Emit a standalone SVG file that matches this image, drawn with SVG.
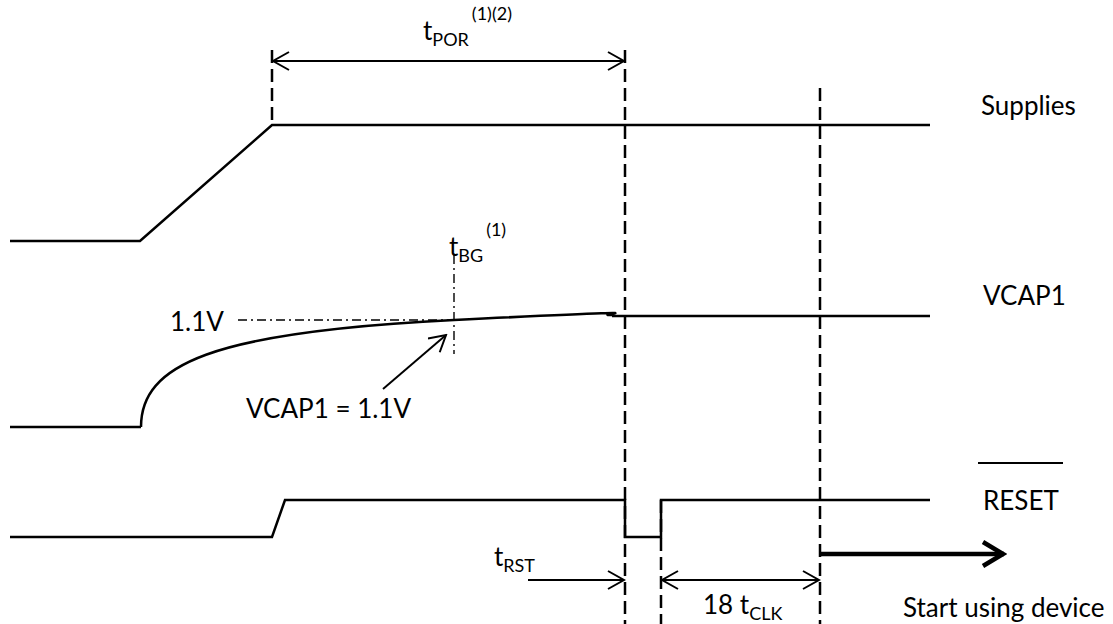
<svg xmlns="http://www.w3.org/2000/svg" width="1113" height="624" viewBox="0 0 1113 624">
<defs>
<style>
.tr{fill:none;stroke:#000;stroke-width:2.5;stroke-linejoin:miter}
.dash{fill:none;stroke:#000;stroke-width:2.5;stroke-dasharray:13 6}
.dd{fill:none;stroke:#000;stroke-width:1.4;stroke-dasharray:9 4 2 4}
.ar{fill:none;stroke:#000;stroke-width:2}
text{font-family:Lato,"Open Sans","Liberation Sans",sans-serif;font-size:26px;fill:#000}
.sub{font-size:18px}
</style>
<marker id="ah" viewBox="0 0 20 20" refX="18" refY="10" markerWidth="20" markerHeight="20" markerUnits="userSpaceOnUse" orient="auto-start-reverse">
<polyline points="2,1 18,10 2,19" fill="none" stroke="#000" stroke-width="2"/>
</marker>
<marker id="ahb" viewBox="0 0 30 30" refX="27" refY="15" markerWidth="30" markerHeight="30" markerUnits="userSpaceOnUse" orient="auto">
<polyline points="6,3 26,15 6,27" fill="none" stroke="#000" stroke-width="4.5"/>
</marker>
</defs>
<rect width="1113" height="624" fill="#fff"/>
<g id="guides">
<line class="dash" x1="272" y1="50" x2="272" y2="125"/>
<line class="dash" x1="625" y1="50" x2="625" y2="624"/>
<line class="dash" x1="661" y1="500" x2="661" y2="624"/>
<line class="dash" x1="820" y1="88" x2="820" y2="624"/>
<line class="dd" x1="238" y1="320" x2="454" y2="320"/>
<line class="dd" x1="454" y1="255" x2="454" y2="354"/>
</g>
<g id="supplies">
<polyline class="tr" points="10,241 140,241 272,125 930,125"/>
<text x="981" y="115">Supplies</text>
</g>
<g id="vcap1">
<path class="tr" d="M141,427 C141,365 210,332 454,320 S585,315 612,315"/>
<line class="tr" x1="612" y1="316" x2="930" y2="316"/>
<line class="tr" x1="10" y1="427" x2="141" y2="427"/>
<text x="983" y="305">VCAP1</text>
<text x="170" y="331">1.1V</text>
<text x="246" y="418">VCAP1 = 1.1V</text>
</g>
<g id="reset">
<polyline class="tr" points="10,537 272,537 285,500 625,500 625,537 661,537 661,500 930,500"/>
<text x="983" y="510">RESET</text>
<line x1="978" y1="463" x2="1063" y2="463" stroke="#000" stroke-width="2"/>
</g>
<g id="connectors">
<line class="ar" x1="273" y1="61" x2="624" y2="61" marker-start="url(#ah)" marker-end="url(#ah)"/>
<line class="ar" x1="383" y1="389" x2="446" y2="335" marker-end="url(#ah)"/>
<line class="ar" x1="528" y1="580" x2="624" y2="580" marker-end="url(#ah)"/>
<line class="ar" x1="662" y1="580" x2="819" y2="580" marker-start="url(#ah)" marker-end="url(#ah)"/>
<line x1="820" y1="554" x2="1004" y2="554" stroke="#000" stroke-width="4.5" marker-end="url(#ahb)"/>
</g>
<g id="labels">
<text x="423" y="40">t<tspan class="sub" dy="6">POR</tspan><tspan class="sub" dy="-26" dx="3">(1)(2)</tspan></text>
<text x="449" y="256">t<tspan class="sub" dy="6">BG</tspan><tspan class="sub" dy="-26" dx="3">(1)</tspan></text>
<text x="494" y="566">t<tspan class="sub" dy="6">RST</tspan></text>
<text x="703" y="614">18 t<tspan class="sub" dy="6">CLK</tspan></text>
<text x="903" y="617">Start using device</text>
</g>
</svg>
